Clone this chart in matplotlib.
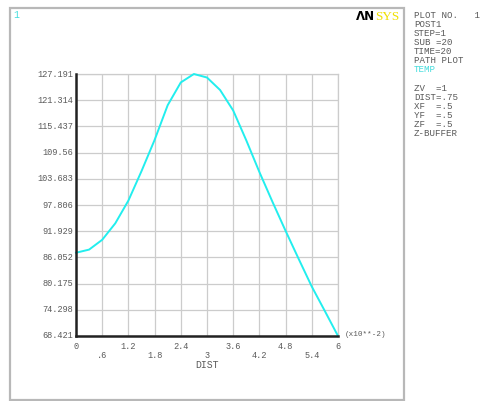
import matplotlib
matplotlib.use("Agg")
import matplotlib.pyplot as plt
from matplotlib.patches import Rectangle
from matplotlib.transforms import blended_transform_factory

# Path plot of TEMP along DIST (DIST in units of 1e-2)
dist = [0.0, 0.3, 0.6, 0.9, 1.2, 1.5, 1.8, 2.1, 2.4, 2.7, 3.0,
        3.3, 3.6, 3.9, 4.2, 4.5, 4.8, 5.1, 5.4, 5.7, 6.0]
temp = [87.1, 87.8, 90.0, 93.7, 98.8, 105.4, 112.4, 120.2, 125.3, 127.191, 126.4,
        123.6, 119.0, 112.3, 105.2, 98.5, 92.0, 85.7, 79.5, 74.0, 68.421]

x_ticks = [0, 0.6, 1.2, 1.8, 2.4, 3.0, 3.6, 4.2, 4.8, 5.4, 6.0]
x_tick_labels = ["0", ".6", "1.2", "1.8", "2.4", "3", "3.6", "4.2", "4.8", "5.4", "6"]
y_ticks = [68.421, 74.298, 80.175, 86.052, 91.929, 97.806, 103.683,
           109.56, 115.437, 121.314, 127.191]
y_tick_labels = ["68.421", "74.298", "80.175", "86.052", "91.929", "97.806",
                 "103.683", "109.56", "115.437", "121.314", "127.191"]

info_lines = ["PLOT NO.   1", "POST1", "STEP=1", "SUB =20", "TIME=20", "PATH PLOT"]
info_lines2 = ["ZV  =1", "DIST=.75", "XF  =.5", "YF  =.5", "ZF  =.5", "Z-BUFFER"]

W, H = 486, 401
fig = plt.figure(figsize=(W / 100, H / 100), dpi=100)
fig.patch.set_facecolor("white")

mono = "Liberation Mono"
txt_col = "#5a5a5a"
fs = 6.2

# window frame
fig.patches.append(Rectangle((10 / W, 1 / H), 394 / W, 392 / H,
                             transform=fig.transFigure, fill=False,
                             edgecolor="#b8b8b8", linewidth=1.6))

ax = fig.add_axes([76 / W, (H - 336) / H, 262 / W, 262 / H])
ax.plot(dist, temp, color="#22eeee", linewidth=1.4, solid_joinstyle="round",
        clip_on=False, zorder=3)
ax.set_xlim(x_ticks[0], x_ticks[-1])
ax.set_ylim(y_ticks[0], y_ticks[-1])
ax.set_xticks(x_ticks)
ax.set_yticks(y_ticks)
ax.set_xticklabels([])
ax.set_yticklabels([])
ax.tick_params(length=0)
ax.grid(True, color="#cccccc", linewidth=0.9)
for s in ("top", "right"):
    ax.spines[s].set_color("#cccccc")
    ax.spines[s].set_linewidth(0.9)
for s in ("left", "bottom"):
    ax.spines[s].set_color("#222222")
    ax.spines[s].set_linewidth(1.8)
    ax.spines[s].set_zorder(4)

# y tick labels
ytr = blended_transform_factory(ax.transAxes, ax.transData)
for v, lab in zip(y_ticks, y_tick_labels):
    ax.text(-0.012, v, lab, transform=ytr, ha="right", va="center",
            fontsize=fs, family=mono, color=txt_col)

# staggered x tick labels
xtr = blended_transform_factory(ax.transData, ax.transAxes)
for i, (v, lab) in enumerate(zip(x_ticks, x_tick_labels)):
    yoff = -0.04 if i % 2 == 0 else -0.075
    ax.text(v, yoff, lab, transform=xtr, ha="center", va="center",
            fontsize=fs, family=mono, color=txt_col)

ax.text(0.5, -0.11, "DIST", transform=ax.transAxes, ha="center", va="center",
        fontsize=7, family=mono, color=txt_col)
ax.text(1.025, 0.005, "(x10**-2)", transform=ax.transAxes, ha="left", va="center",
        fontsize=5.5, family=mono, color=txt_col)

# window number and logo
fig.text(13 / W, 1 - 15 / H, "1", fontsize=7, family=mono, color="#44dddd",
         ha="left", va="center")
fig.text(356 / W, 1 - 19.5 / H, "ΛN", fontsize=8.5, family="DejaVu Sans",
         weight="bold", color="black", ha="left", va="baseline")
fig.text(375 / W, 1 - 19.5 / H, "SYS", fontsize=9.5, family="Liberation Serif",
         color="#f0e000", ha="left", va="baseline")

# info column
base = 18
for i, line in enumerate(info_lines):
    fig.text(414 / W, 1 - (base + i * 9) / H, line, fontsize=6.6, family=mono,
             color=txt_col, ha="left", va="baseline")
fig.text(414 / W, 1 - (base + 6 * 9) / H, "TEMP", fontsize=6.6, family=mono,
         color="#44dddd", ha="left", va="baseline")
for i, line in enumerate(info_lines2):
    fig.text(414 / W, 1 - (base + 73 + i * 9) / H, line, fontsize=6.6, family=mono,
             color=txt_col, ha="left", va="baseline")

fig.savefig("out.png", dpi=100, facecolor="white")
